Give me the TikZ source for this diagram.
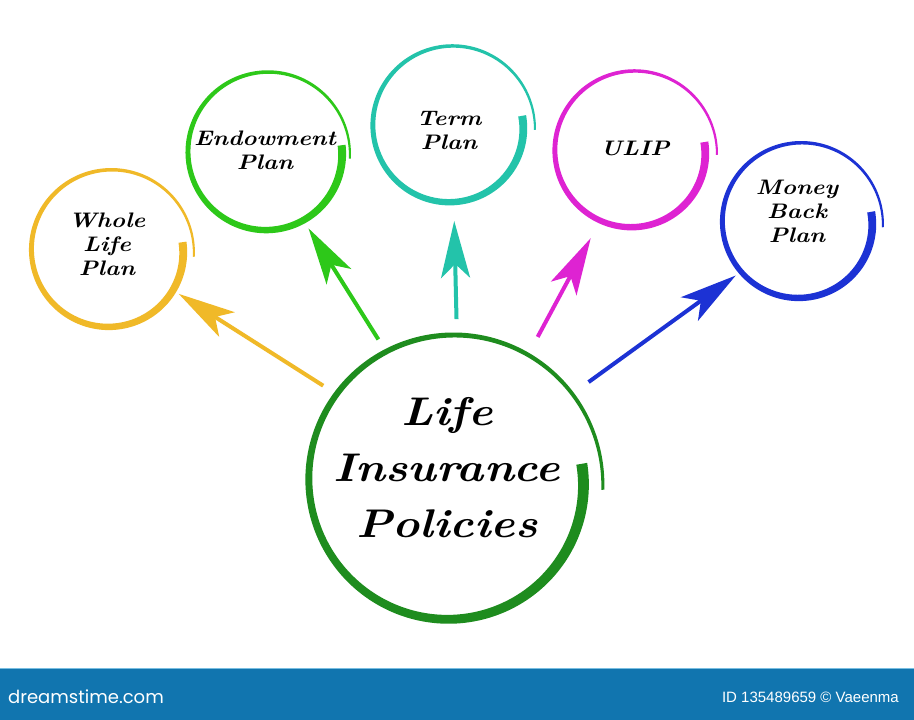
\documentclass[tikz,border=0pt]{standalone}
\usepackage{fontspec}
\newfontfamily\hand[FakeStretch=1.15]{Latin Modern Roman}
\newfontfamily\bannerfont{Poppins}
\newfontfamily\idfont{Liberation Sans}
\usetikzlibrary{arrows.meta}
\definecolor{cyel}{RGB}{240,185,40}
\definecolor{cgrn}{RGB}{45,200,25}
\definecolor{cteal}{RGB}{35,195,170}
\definecolor{cmag}{RGB}{222,35,210}
\definecolor{cblu}{RGB}{28,50,212}
\definecolor{cmain}{RGB}{30,140,30}
\definecolor{cbanner}{RGB}{17,117,175}
\definecolor{cbline}{RGB}{120,190,225}
% cx cy r0 r1 a0 sweep w0 w1 colour
\newcommand\brushring[9]{%
 \fill[#9] plot[smooth, domain=0:1, samples=160, variable=\t]
   ({#1+(#3+(#4-#3)*\t+(#7+(#8-#7)*\t)/2)*cos(#5-#6*\t)},
    {#2-(#3+(#4-#3)*\t+(#7+(#8-#7)*\t)/2)*sin(#5-#6*\t)})
  -- plot[smooth, domain=1:0, samples=160, variable=\t]
   ({#1+(#3+(#4-#3)*\t-(#7+(#8-#7)*\t)/2)*cos(#5-#6*\t)},
    {#2-(#3+(#4-#3)*\t-(#7+(#8-#7)*\t)/2)*sin(#5-#6*\t)}) -- cycle;}
\tikzset{
  hub/.style={circle, minimum size=320pt, inner sep=0pt, outer sep=0pt},
  sat/.style={circle, minimum size=180pt, inner sep=0pt, outer sep=0pt},
  bigtxt/.style={align=center, inner sep=0pt, font=\hand\bfseries\itshape\fontsize{40}{56}\selectfont},
  smalltxt/.style={align=center, inner sep=0pt, font=\hand\bfseries\itshape\fontsize{21}{24}\selectfont},
  arr/.style={line width=4pt, -{Stealth[length=57pt, width=29pt, inset=14pt]}},
}
\begin{document}
\begin{tikzpicture}[x=1pt, y=-1pt]
\useasboundingbox (0,0) rectangle (914,720);
\fill[white] (0,0) rectangle (914,720);

% geometry nodes
\node[hub] (main) at (451,482) {};
\node[sat] (whole) at (110,251) {};
\node[sat] (endow) at (267,153) {};
\node[sat] (term) at (451,127) {};
\node[sat] (ulip) at (633,152) {};
\node[sat] (money) at (800,223) {};

% brush rings
\brushring{451}{482}{132}{152}{8}{371}{11}{3}{cmain}
\brushring{110}{251}{73}{84}{7}{371}{8}{2}{cyel}
\brushring{267}{153}{75}{83}{6}{370}{8}{2}{cgrn}
\brushring{451}{127}{72}{84}{9}{371}{8}{2}{cteal}
\brushring{633}{152}{72}{84}{8}{370}{8}{2}{cmag}
\brushring{800}{223}{72}{83}{9}{372}{8}{2}{cblu}

% labels
\node[bigtxt] (mainT) at (447,468) {Life\\Insurance\\Policies};
\node[smalltxt] (wholeT) at (107,244) {Whole\\Life\\Plan};
\node[smalltxt] (endowT) at (265,150) {Endowment\\Plan};
\node[smalltxt] (termT) at (449,130) {Term\\Plan};
\node[smalltxt] (ulipT) at (635,148) {ULIP};
\node[smalltxt] (moneyT) at (797,211) {Money\\Back\\Plan};

% arrows
\draw[arr, cyel, shorten >=-9pt] (main.143) -- (whole.-32);
\draw[arr, cgrn, shorten >=-4pt] (main.117) -- (endow.-61);
\draw[arr, cteal, shorten <=3pt, shorten >=4pt] (main.88) -- (term.-88);
\draw[arr, cmag, shorten <=9pt, shorten >=6pt] (main.59) -- (ulip.-116);
\draw[arr, cblu, shorten <=10pt, shorten >=-7pt] (main.36) -- (money.-141);

% banner
\fill[cbanner] (0,668) rectangle (914,720);
\draw[cbline, line width=1pt] (0,668.5) -- (914,668.5);
\node[anchor=west, text=white, inner sep=0pt, font=\bannerfont\fontsize{18}{20}\selectfont] (brand) at (8,697) {dreamstime.com};
\node[anchor=east, text=white, inner sep=0pt, font=\idfont\fontsize{15}{17}\selectfont] (idtxt) at (899,697) {ID 135489659 © Vaeenma};
\end{tikzpicture}
\end{document}
